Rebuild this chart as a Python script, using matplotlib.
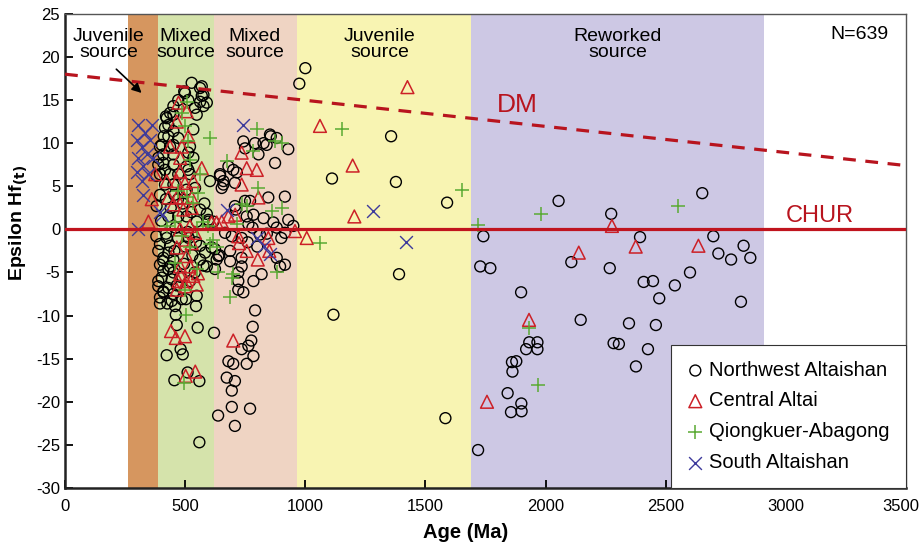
import matplotlib
matplotlib.use("Agg")
import matplotlib.pyplot as plt
import matplotlib.transforms as mtransforms

plt.rcParams['font.family'] = ['Liberation Sans', 'DejaVu Sans']
plt.rcParams['axes.unicode_minus'] = False

# ---------------- data ----------------
band_edges = [260, 385, 620, 965, 1690, 2910]
band_colors = ['#d6965f', '#d5e3ab', '#efd4c3', '#f8f4b2', '#cdc8e4']
band_labels = ['Juvenile\nsource', 'Mixed\nsource', 'Mixed\nsource', 'Juvenile\nsource', 'Reworked\nsource']
band_label_x = [183, 503, 790, 1311, 2301]

dm_age = [0, 3500]
dm_eps = [18.0, 7.4]
chur_age = [0, 3500]
chur_eps = [0, 0]

nw_age = [527, 562, 499, 576, 471, 562, 451, 541, 590, 437, 548, 423, 430, 416, 451, 534, 430, 471, 402, 451,
          520, 409, 451, 534, 409, 451, 388, 506, 395, 437, 471, 520, 416, 451, 506, 603, 541,
          569, 496, 569, 576, 513, 420, 451, 411, 395, 513, 437, 388, 416, 513, 381, 645, 659,
          430, 471, 506, 381, 562, 548, 597, 617, 420, 455, 490, 395, 440, 525, 470, 400, 460, 510, 580, 590,
          423, 395, 437, 388, 430, 409, 451, 395, 437, 409, 451, 402, 444, 388, 430, 409, 451, 395, 562, 583,
          624, 631, 624, 562, 409, 430, 388, 409, 395, 426, 458, 503, 548, 545, 576, 610, 642, 461, 465, 552,
          620, 481, 490, 423, 455, 559, 510, 559, 444, 486, 637,
          470, 500, 530, 480, 520, 465, 540, 495, 420, 455, 515, 545, 380,
          853, 881, 742, 791, 826, 749, 839, 929, 874, 680, 700, 645, 659, 652, 915, 846, 749, 707, 784, 826,
          929, 867, 881, 763, 596, 666, 811, 915, 735, 694, 856, 805, 770, 711, 756, 950, 707, 715,
          590, 638, 687, 687, 735, 735, 721, 721, 721, 742, 784, 818, 881, 915, 895, 791, 781, 775, 763, 735,
          784, 756, 680, 700, 673, 707, 694, 694, 770, 707, 760, 800, 840, 900, 780,
          1000, 975, 1111, 1117, 1357, 1377, 1590, 1390, 1583,
          1741, 2054, 2273, 2393, 1728, 1770, 2107, 2267, 1898, 2146, 2408, 2447, 2538, 2473, 2347, 2459, 2426,
          2283, 2305, 2376, 1932, 1966, 1919, 1966, 1860, 1878, 1862, 1842, 1899, 1856, 1900, 1719,
          2652, 2698, 2719, 2772, 2824, 2852, 2601, 2813]
nw_eps = [17.0, 16.4, 15.8, 15.6, 15.0, 14.8, 14.3, 14.1, 14.7, 13.5, 13.3, 12.9, 12.1, 11.8, 11.4, 11.6, 10.8, 10.6, 9.8, 9.8,
          9.6, 8.7, 8.7, 8.3, 7.7, 7.5, 7.5, 7.3, 6.4, 6.4, 6.4, 6.4, 5.2, 5.2, 4.6, 5.6, 4.8,
          16.6, 16.0, 15.5, 14.3, 15.0, 13.1, 13.3, 10.8, 9.6, 8.9, 9.6, 8.3, 6.9, 6.9, 6.2, 6.2, 5.2,
          1.5, 1.5, 1.5, 2.7, 2.3, 0.9, 0.9, 0.9, 3.5, 4.0, 3.0, 4.0, 2.5, 2.0, 3.5, 1.0, 0.2, -0.3, 3.0, 1.8,
          -1.0, -1.7, -1.9, -2.5, -2.7, -3.3, -3.5, -4.1, -4.3, -4.8, -5.0, -5.6, -5.8, -6.6, -6.8, -7.3, -7.5, -7.9, -1.9, -2.7,
          -2.3, -3.5, -4.6, -3.5, -3.7, -4.6, -6.0, -7.2, -8.6, -8.6, -8.9, -8.1, -7.7, -8.9, -4.2, -2.1, -3.0, -9.9, -11.1, -11.4,
          -12.0, -13.9, -14.5, -14.6, -17.5, -17.6, -16.6, -24.7, -8.3, -8.1, -21.6,
          -1.0, -2.0, -3.0, -5.5, -6.0, -6.5, -5.0, -4.0, -0.5, -2.5, -1.0, -1.5, -0.8,
          11.0, 10.6, 10.2, 10.0, 10.0, 9.4, 9.8, 9.3, 7.7, 7.3, 6.9, 6.4, 5.6, 4.8, 3.8, 3.7, 3.3, 2.7, 1.7, 1.3,
          1.1, 0.8, 0.2, 0.6, 1.1, -0.4, -0.6, -0.4, -1.0, -0.8, 10.8, 8.7, 3.3, 2.3, 1.5, 0.4, 5.4, 6.6,
          -4.3, -3.1, -2.5, -3.7, -3.3, -4.3, -5.0, -6.0, -7.0, -7.3, -6.0, -5.2, -3.3, -4.1, -4.3, -9.4, -11.3, -12.9, -13.5, -13.9,
          -14.7, -15.6, -15.3, -15.6, -17.2, -17.6, -18.7, -20.6, -20.8, -22.8, -1.5, -2.0, -0.5, -1.0, 0.2,
          18.7, 16.9, 5.9, -9.9, 10.8, 5.5, 3.1, -5.2, -21.9,
          -0.8, 3.3, 1.8, -0.9, -4.3, -4.5, -3.8, -4.5, -7.3, -10.5, -6.1, -6.0, -6.5, -8.0, -10.9, -11.1, -13.9,
          -13.2, -13.3, -15.9, -13.1, -13.1, -13.9, -13.9, -15.4, -15.3, -16.5, -19.0, -20.2, -21.2, -21.1, -25.6,
          4.2, -0.8, -2.8, -3.5, -1.9, -3.3, -5.0, -8.4]

ca_age = [472, 506, 465, 513, 437, 486, 479, 569, 375, 423, 479, 465, 499, 534, 361, 347, 430, 465, 493, 527,
          527, 492, 451, 479, 520, 541, 610, 631, 499, 527, 465, 506, 479, 520, 534, 479, 472, 548, 499, 465,
          441, 461, 499, 502, 542, 553, 504,
          724, 756, 802, 850, 700, 1006, 735, 756, 798, 735, 805, 680, 708, 652, 957, 721, 846,
          1061, 1197, 1204, 1425, 2276, 2138, 2375, 2636, 1931, 1756]
ca_eps = [14.7, 13.7, 12.5, 10.8, 9.6, 9.6, 8.3, 7.1, 6.4, 5.6, 6.7, 5.6, 5.4, 5.6, 3.5, 0.9, 3.7, 3.7, 3.7, 3.7,
          2.5, 2.3, 2.9, 0.0, 0.4, -0.4, 0.8, 0.8, -1.2, -1.6, -2.1, -3.1, -4.3, -4.3, -5.4, -5.2, -6.0, -6.4, -6.6, -7.0,
          -11.8, -12.6, -12.4, -17.0, -16.5, -5.1, -6.0,
          -1.6, -2.5, -3.5, -2.5, -12.9, -1.0, 8.9, 7.1, 6.9, 5.2, 3.7, 1.5, 1.7, 0.9, -0.2, -0.8, -1.0,
          12.0, 7.4, 1.5, 16.5, 0.4, -2.7, -2.0, -1.9, -10.5, -20.0]

qa_age = [603, 506, 486, 562, 513, 495, 505, 798, 784, 874, 902, 673, 805, 756, 735, 902, 860, 715, 638, 700,
          881, 687, 603, 631, 423, 458, 548, 576, 597, 506, 534, 555, 486, 520, 548, 458, 499, 617, 694,
          500, 520, 470,
          1151, 1062, 1652, 1719, 1982, 2550, 1930, 1968]
qa_eps = [10.6, 14.8, 13.5, 6.4, 10.2, -17.8, -9.9, 11.6, 9.1, 10.2, 10.0, 7.9, 4.8, 2.7, 2.9, 2.5, 2.1, 0.6, -5.0, -5.2,
          -5.0, -7.9, -1.7, -2.1, 0.4, 0.8, 0.0, 0.8, 0.4, 3.8, 3.1, 4.2, -0.8, -2.1, -4.6, -3.9, -7.0, -1.2, -5.7,
          12.0, 8.0, 4.5,
          11.6, -1.6, 4.6, 0.5, 1.8, 2.7, -11.5, -18.0]

sa_age = [305, 361, 333, 298, 354, 319, 340, 305, 367, 326, 298, 347, 319,
          305, 326, 402, 395, 739, 673, 798, 826, 853, 1283, 1419]
sa_eps = [12.1, 12.1, 11.2, 10.4, 10.4, 9.6, 8.7, 8.3, 8.3, 7.3, 6.7, 6.4, 5.6,
          0.0, 4.0, 1.7, 2.0, 12.1, 2.3, -1.0, -1.9, -2.9, 2.1, -1.5]

x_ticks = [0, 500, 1000, 1500, 2000, 2500, 3000, 3500]
y_ticks = [-30, -25, -20, -15, -10, -5, 0, 5, 10, 15, 20, 25]

# ---------------- plot ----------------
fig = plt.figure(figsize=(9.2, 5.52), dpi=100)
ax = fig.add_axes([0.0707, 0.116, 0.9141, 0.8589])
ax.set_xlim(0, 3500)
ax.set_ylim(-30, 25)

for i in range(len(band_colors)):
    ax.axvspan(band_edges[i], band_edges[i + 1], color=band_colors[i], lw=0, zorder=0)
for lx, lab in zip(band_label_x, band_labels):
    ax.text(lx, 21.4, lab, ha='center', va='center', fontsize=14, linespacing=0.92, zorder=5)
ax.text(3308, 22.6, 'N=639', ha='center', va='center', fontsize=14, zorder=5)

ax.plot(dm_age, dm_eps, color='#b8141e', lw=2.3, ls=(0, (4, 3)), zorder=4)
ax.plot(chur_age, chur_eps, color='#c0141e', lw=2.3, zorder=4)
ax.text(1881, 14.4, 'DM', color='#b8141e', fontsize=19, ha='center', va='center', zorder=5)
ax.text(3142, 1.6, 'CHUR', color='#b8141e', fontsize=17, ha='center', va='center', zorder=5)

ax.annotate('', xy=(327, 15.6), xytext=(205, 18.8),
            arrowprops=dict(arrowstyle='-|>', color='black', lw=1.2, mutation_scale=14), zorder=6)

ax.scatter(nw_age, nw_eps, s=62, facecolors='none', edgecolors='black', linewidths=1.0,
           zorder=3, label='Northwest Altaishan')
ax.scatter(ca_age, ca_eps, s=85, marker='^', facecolors='none', edgecolors='#cc2027', linewidths=1.1,
           zorder=3.2, label='Central Altai')
ax.scatter(qa_age, qa_eps, s=115, marker='+', color='#5aaa33', linewidths=1.1,
           zorder=3.3, label='Qiongkuer-Abagong')
ax.scatter(sa_age, sa_eps, s=85, marker='x', color='#3d3a9c', linewidths=1.0,
           zorder=3.4, label='South Altaishan')

ax.set_xticks(x_ticks)
ax.set_yticks(y_ticks)
ax.tick_params(direction='in', length=6, width=1.3, labelsize=12)
ax.tick_params(axis='x', pad=8)
last = ax.xaxis.get_major_ticks()[-1].label1
last.set_transform(last.get_transform() + mtransforms.ScaledTranslation(-5 / 100, 0, fig.dpi_scale_trans))
for side in ['left', 'bottom']:
    ax.spines[side].set_linewidth(1.8)
    ax.spines[side].set_color('#222222')
for side in ['top', 'right']:
    ax.spines[side].set_linewidth(1.0)
    ax.spines[side].set_color('#555555')

ax.set_xlabel('Age (Ma)', fontsize=14.5, fontweight='bold')
ax.xaxis.set_label_coords(0.476, -0.073)
ax.set_ylabel('Epsilon Hf$_{\\mathbf{(t)}}$', fontsize=14, fontweight='bold')
ax.yaxis.set_label_coords(-0.042, 0.56)

leg = ax.legend(loc='lower right', fontsize=14.5, frameon=True, fancybox=False, edgecolor='#333333',
                framealpha=1, borderaxespad=0, borderpad=0.8, labelspacing=0.58, handletextpad=0.3,
                handlelength=0.8)
leg.get_frame().set_linewidth(0.8)
leg.set_zorder(10)

fig.savefig('out.png', dpi=100)
